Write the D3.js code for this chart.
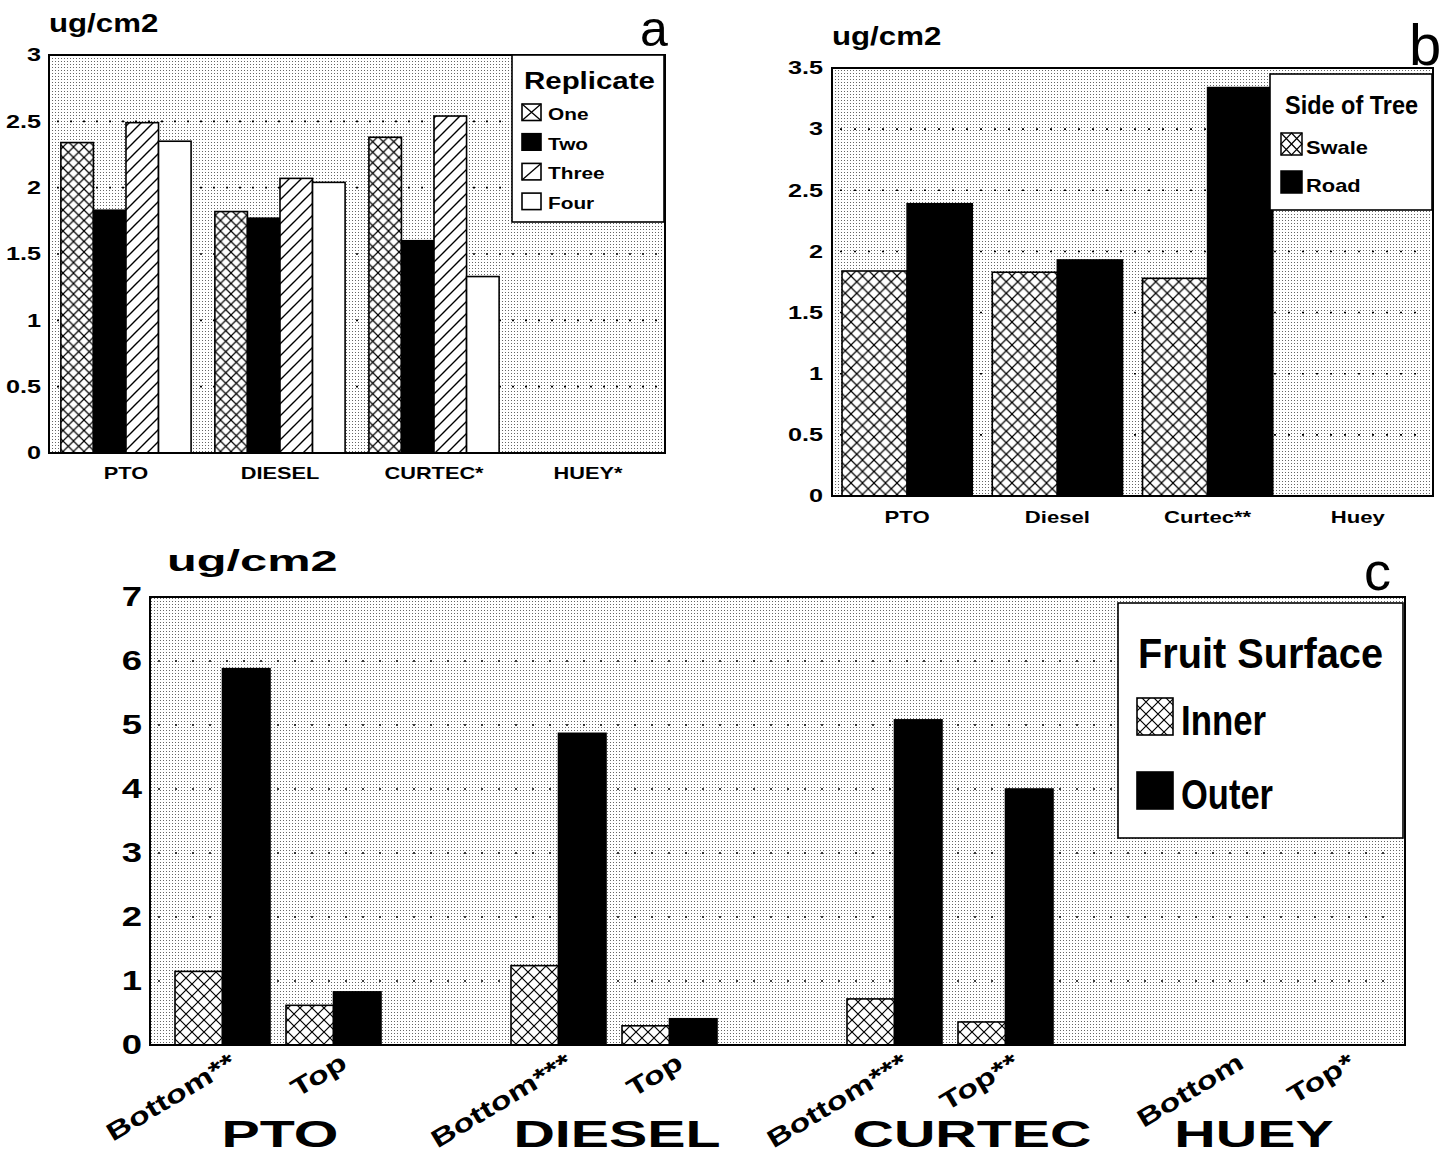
<!DOCTYPE html>
<html>
<head>
<meta charset="utf-8">
<script src="https://cdn.jsdelivr.net/npm/d3@7"></script>
<style>
  body { margin: 0; background: #fff; }
  svg text { font-family: "Liberation Sans", Arial, sans-serif; font-weight: bold; fill: #000; }
</style>
</head>
<body>
<div id="chart"></div>
<script>
// ---- panel a : replicates
const repCategories = ["PTO", "DIESEL", "CURTEC*", "HUEY*"];
const repNames = ["One", "Two", "Three", "Four"];
const repOne = [2.34, 1.82, 2.38, null];
const repTwo = [1.83, 1.77, 1.60, null];
const repThree = [2.49, 2.07, 2.54, null];
const repFour = [2.35, 2.04, 1.33, null];
const ticksA = [0, 0.5, 1, 1.5, 2, 2.5, 3];

// ---- panel b : side of tree
const sideCategories = ["PTO", "Diesel", "Curtec**", "Huey"];
const sideNames = ["Swale", "Road"];
const swale = [1.84, 1.83, 1.78, null];
const road = [2.39, 1.93, 3.34, null];
const ticksB = [0, 0.5, 1, 1.5, 2, 2.5, 3, 3.5];

// ---- panel c : fruit surface
const fruitGroups = ["PTO", "DIESEL", "CURTEC", "HUEY"];
const fruitPositions = ["Bottom", "Top"];
const fruitPosLabels = [["Bottom**", "Top"], ["Bottom***", "Top"], ["Bottom***", "Top**"], ["Bottom", "Top*"]];
const surfaceNames = ["Inner", "Outer"];
const innerBottom = [1.15, 1.24, 0.72, null];
const innerTop = [0.62, 0.30, 0.36, null];
const outerBottom = [5.88, 4.87, 5.08, null];
const outerTop = [0.83, 0.41, 4.00, null];
const ticksC = [0, 1, 2, 3, 4, 5, 6, 7];

// the big group names are not quite centred under their bars in the original
const groupLabelNudge = [2, 3, 22, -32];

const svg = d3.select("#chart").append("svg")
    .attr("width", 1452)
    .attr("height", 1155);
const defs = svg.append("defs");

// stippled grey background
const stip = defs.append("pattern").attr("id", "stip")
    .attr("patternUnits", "userSpaceOnUse").attr("width", 3).attr("height", 3);
stip.append("rect").attr("width", 3).attr("height", 3).attr("fill", "#fff");
stip.append("rect").attr("x", 1).attr("y", 1).attr("width", 1).attr("height", 1).attr("fill", "#666");

function crossHatch(id, s) {
    const p = defs.append("pattern").attr("id", id)
        .attr("patternUnits", "userSpaceOnUse").attr("width", s).attr("height", s);
    p.append("rect").attr("width", s).attr("height", s).attr("fill", "#fff");
    p.append("path").attr("d", `M0,0L${s},${s}M${s},0L0,${s}`)
        .attr("stroke", "#000").attr("stroke-width", 1.2);
}
function diagHatch(id, s) {
    const p = defs.append("pattern").attr("id", id)
        .attr("patternUnits", "userSpaceOnUse").attr("width", s).attr("height", s);
    p.append("rect").attr("width", s).attr("height", s).attr("fill", "#fff");
    p.append("path").attr("d", `M0,${s}L${s},0M${-s / 2},${s / 2}L${s / 2},${-s / 2}M${s / 2},${s * 1.5}L${s * 1.5},${s / 2}`)
        .attr("stroke", "#000").attr("stroke-width", 1.4);
}
crossHatch("crossA", 10.5);
diagHatch("diagA", 12);
crossHatch("crossB", 11.5);
crossHatch("crossC", 12);

// widen / narrow text like the original typesetting
function stretch(sel, k) {
    sel.each(function () {
        const w = this.getComputedTextLength();
        d3.select(this).attr("textLength", w * k).attr("lengthAdjust", "spacingAndGlyphs");
    });
}

function frameBack(g, x0, x1, y, ticks, dash) {
    const top = y(ticks[ticks.length - 1]), bot = y(0);
    g.append("rect").attr("x", x0).attr("y", top).attr("width", x1 - x0).attr("height", bot - top)
        .attr("fill", "url(#stip)");
    g.selectAll(".grid").data(ticks.slice(1, -1)).join("line")
        .attr("x1", x0 + 8).attr("x2", x1 - 6)
        .attr("y1", d => y(d)).attr("y2", d => y(d))
        .attr("stroke", "#000").attr("stroke-width", 1.6)
        .attr("stroke-dasharray", dash);
}
function frameFront(g, x0, x1, y, ticks) {
    const top = y(ticks[ticks.length - 1]), bot = y(0);
    g.append("rect").attr("x", x0).attr("y", top).attr("width", x1 - x0).attr("height", bot - top)
        .attr("fill", "none").attr("stroke", "#000").attr("stroke-width", 2);
}
function yAxis(g, x0, y, ticks, size, k, pad) {
    const ax = g.append("g").attr("transform", `translate(${x0},0)`)
        .call(d3.axisLeft(y).tickValues(ticks).tickSize(0).tickPadding(pad).tickFormat(d3.format("")));
    ax.select(".domain").remove();
    ax.attr("font-family", null).attr("font-size", null);
    ax.selectAll("text").style("font-size", size + "px");
    stretch(ax.selectAll("text"), k);
}

// ================= panel a
const gA = svg.append("g");
const yA = d3.scaleLinear().domain([0, 3]).range([453, 55]);
const xA = d3.scaleBand().domain(repCategories).range([49, 665]).paddingInner(0.1545).paddingOuter(0.077);
const xARep = d3.scaleBand().domain(repNames).range([0, xA.bandwidth()]);
const repValues = [repOne, repTwo, repThree, repFour];
const repFills = ["url(#crossA)", "#000", "url(#diagA)", "#fff"];

frameBack(gA, 49, 665, yA, ticksA, "2,11");
repNames.forEach((name, i) => {
    const rows = repCategories.map((c, j) => ({ c, v: repValues[i][j] })).filter(d => d.v != null);
    gA.selectAll(".bar" + i).data(rows).join("rect")
        .attr("x", d => xA(d.c) + xARep(name))
        .attr("width", xARep.bandwidth())
        .attr("y", d => yA(d.v))
        .attr("height", d => yA(0) - yA(d.v))
        .attr("fill", repFills[i])
        .attr("stroke", "#000").attr("stroke-width", 1.6);
});
frameFront(gA, 49, 665, yA, ticksA);
yAxis(gA, 49, yA, ticksA, 18, 1.4, 8);

const xAxA = gA.append("g").attr("transform", "translate(0,453)")
    .call(d3.axisBottom(xA).tickSize(0).tickPadding(14));
xAxA.select(".domain").remove();
xAxA.attr("font-family", null).attr("font-size", null);
xAxA.selectAll("text").style("font-size", "17px");
stretch(xAxA.selectAll("text"), 1.28);

const unitA = gA.append("text").attr("x", 49).attr("y", 32).style("font-size", "26px").text("ug/cm2");
stretch(unitA, 1.2);
gA.append("text").attr("x", 640).attr("y", 46).style("font-size", "50px").style("font-weight", "normal").text("a");

// legend a
const legA = gA.append("g");
legA.append("rect").attr("x", 512).attr("y", 55).attr("width", 152).attr("height", 167)
    .attr("fill", "#fff").attr("stroke", "#000").attr("stroke-width", 1.6);
stretch(legA.append("text").attr("x", 524).attr("y", 89).style("font-size", "23px").text("Replicate"), 1.28);
repNames.forEach((name, i) => {
    const yy = 104 + i * 29.7;
    legA.append("rect").attr("x", 522).attr("y", yy).attr("width", 19).attr("height", 16.5)
        .attr("fill", i === 1 ? "#000" : "#fff").attr("stroke", "#000").attr("stroke-width", 1.6);
    if (i === 0) legA.append("path").attr("d", `M522,${yy}L541,${yy + 16.5}M541,${yy}L522,${yy + 16.5}`)
        .attr("stroke", "#000").attr("stroke-width", 1.3);
    if (i === 2) legA.append("path").attr("d", `M522,${yy + 16.5}L541,${yy}`)
        .attr("stroke", "#000").attr("stroke-width", 1.3);
    stretch(legA.append("text").attr("x", 548).attr("y", yy + 16).style("font-size", "16px").text(name), 1.3);
});

// ================= panel b
const gB = svg.append("g");
const yB = d3.scaleLinear().domain([0, 3.5]).range([496, 68]);
const xB = d3.scaleBand().domain(sideCategories).range([832, 1433]).paddingInner(0.1333).paddingOuter(0.0667);
const xBSide = d3.scaleBand().domain(sideNames).range([0, xB.bandwidth()]);
const sideValues = [swale, road];
const sideFills = ["url(#crossB)", "#000"];

frameBack(gB, 832, 1433, yB, ticksB, "2,12");
sideNames.forEach((name, i) => {
    const rows = sideCategories.map((c, j) => ({ c, v: sideValues[i][j] })).filter(d => d.v != null);
    gB.selectAll(".bar" + i).data(rows).join("rect")
        .attr("x", d => xB(d.c) + xBSide(name))
        .attr("width", xBSide.bandwidth())
        .attr("y", d => yB(d.v))
        .attr("height", d => yB(0) - yB(d.v))
        .attr("fill", sideFills[i])
        .attr("stroke", "#000").attr("stroke-width", 1.6);
});
frameFront(gB, 832, 1433, yB, ticksB);
yAxis(gB, 832, yB, ticksB, 18, 1.4, 9);

const xAxB = gB.append("g").attr("transform", "translate(0,496)")
    .call(d3.axisBottom(xB).tickSize(0).tickPadding(15));
xAxB.select(".domain").remove();
xAxB.attr("font-family", null).attr("font-size", null);
xAxB.selectAll("text").style("font-size", "17px");
stretch(xAxB.selectAll("text"), 1.3);

stretch(gB.append("text").attr("x", 832).attr("y", 45).style("font-size", "26px").text("ug/cm2"), 1.2);
gB.append("text").attr("x", 1409).attr("y", 65).style("font-size", "58px").style("font-weight", "normal").text("b");

// legend b
const legB = gB.append("g");
legB.append("rect").attr("x", 1270).attr("y", 74).attr("width", 162).attr("height", 136)
    .attr("fill", "#fff").attr("stroke", "#000").attr("stroke-width", 1.6);
legB.append("text").attr("x", 1285).attr("y", 114).style("font-size", "26px")
    .attr("textLength", 133).attr("lengthAdjust", "spacingAndGlyphs").text("Side of Tree");
sideNames.forEach((name, i) => {
    const yy = 133 + i * 38;
    legB.append("rect").attr("x", 1281).attr("y", yy).attr("width", 21).attr("height", 22)
        .attr("fill", i === 0 ? "#fff" : "#000").attr("stroke", "#000").attr("stroke-width", 1.5);
    if (i === 0) legB.append("path")
        .attr("d", `M1281,${yy}L1302,${yy + 22}M1302,${yy}L1281,${yy + 22}M1291.5,${yy}L1302,${yy + 11}L1291.5,${yy + 22}L1281,${yy + 11}Z`)
        .attr("fill", "none").attr("stroke", "#000").attr("stroke-width", 1.2);
    stretch(legB.append("text").attr("x", 1306).attr("y", yy + 21).style("font-size", "19px").text(name), 1.15);
});

// ================= panel c
const gC = svg.append("g");
const yC = d3.scaleLinear().domain([0, 7]).range([1045, 597]);
const xC = d3.scaleBand().domain(fruitGroups).range([175, 1389]).paddingInner(130 / 336).paddingOuter(0);
const xCPos = d3.scaleBand().domain(fruitPositions).range([0, xC.bandwidth()]).paddingInner(16 / 111);
const xCSurf = d3.scaleBand().domain(surfaceNames).range([0, xCPos.bandwidth()]);
const fruitRows = [];
fruitGroups.forEach((g, j) => {
    fruitRows.push({ g, pos: "Bottom", s: "Inner", v: innerBottom[j] });
    fruitRows.push({ g, pos: "Bottom", s: "Outer", v: outerBottom[j] });
    fruitRows.push({ g, pos: "Top", s: "Inner", v: innerTop[j] });
    fruitRows.push({ g, pos: "Top", s: "Outer", v: outerTop[j] });
});

frameBack(gC, 150, 1405, yC, ticksC, "2,15");
gC.selectAll(".barc").data(fruitRows.filter(d => d.v != null)).join("rect")
    .attr("x", d => xC(d.g) + xCPos(d.pos) + xCSurf(d.s))
    .attr("width", xCSurf.bandwidth())
    .attr("y", d => yC(d.v))
    .attr("height", d => yC(0) - yC(d.v))
    .attr("fill", d => d.s === "Inner" ? "url(#crossC)" : "#000")
    .attr("stroke", "#000").attr("stroke-width", 1.6);
frameFront(gC, 150, 1405, yC, ticksC);
yAxis(gC, 150, yC, ticksC, 27, 1.35, 8);

// rotated position labels
fruitGroups.forEach((g, j) => {
    fruitPositions.forEach((p, k) => {
        const cx = xC(g) + xCPos(p) + xCPos.bandwidth() / 2;
        const t = gC.append("text")
            .attr("transform", `translate(${cx + 15},${1067}) rotate(-31)`)
            .attr("text-anchor", "end")
            .style("font-size", "25px")
            .text(fruitPosLabels[j][k]);
        stretch(t, 1.36);
    });
});
// group labels
const grpLab = gC.selectAll(".grp").data(fruitGroups).join("text")
    .attr("x", (d, i) => xC(d) + xC.bandwidth() / 2 + groupLabelNudge[i])
    .attr("y", 1147)
    .attr("text-anchor", "middle")
    .style("font-size", "37px")
    .text(d => d);
stretch(grpLab, 1.55);

stretch(gC.append("text").attr("x", 167).attr("y", 571).style("font-size", "29px").text("ug/cm2"), 1.68);
gC.append("text").attr("x", 1364).attr("y", 590).style("font-size", "54px").style("font-weight", "normal").text("c");

// legend c
const legC = gC.append("g");
legC.append("rect").attr("x", 1118).attr("y", 603).attr("width", 285).attr("height", 235)
    .attr("fill", "#fff").attr("stroke", "#000").attr("stroke-width", 1.6);
legC.append("text").attr("x", 1138).attr("y", 668).style("font-size", "42px")
    .attr("textLength", 245).attr("lengthAdjust", "spacingAndGlyphs").text("Fruit Surface");
const legCItems = [
    { name: surfaceNames[0], fill: "url(#crossC)", y: 698, len: 85 },
    { name: surfaceNames[1], fill: "#000", y: 772, len: 92 }
];
legCItems.forEach(it => {
    legC.append("rect").attr("x", 1137).attr("y", it.y).attr("width", 36).attr("height", 37)
        .attr("fill", it.fill).attr("stroke", "#000").attr("stroke-width", 1.6);
    legC.append("text").attr("x", 1181).attr("y", it.y + 37).style("font-size", "42px")
        .attr("textLength", it.len).attr("lengthAdjust", "spacingAndGlyphs").text(it.name);
});
</script>
</body>
</html>
